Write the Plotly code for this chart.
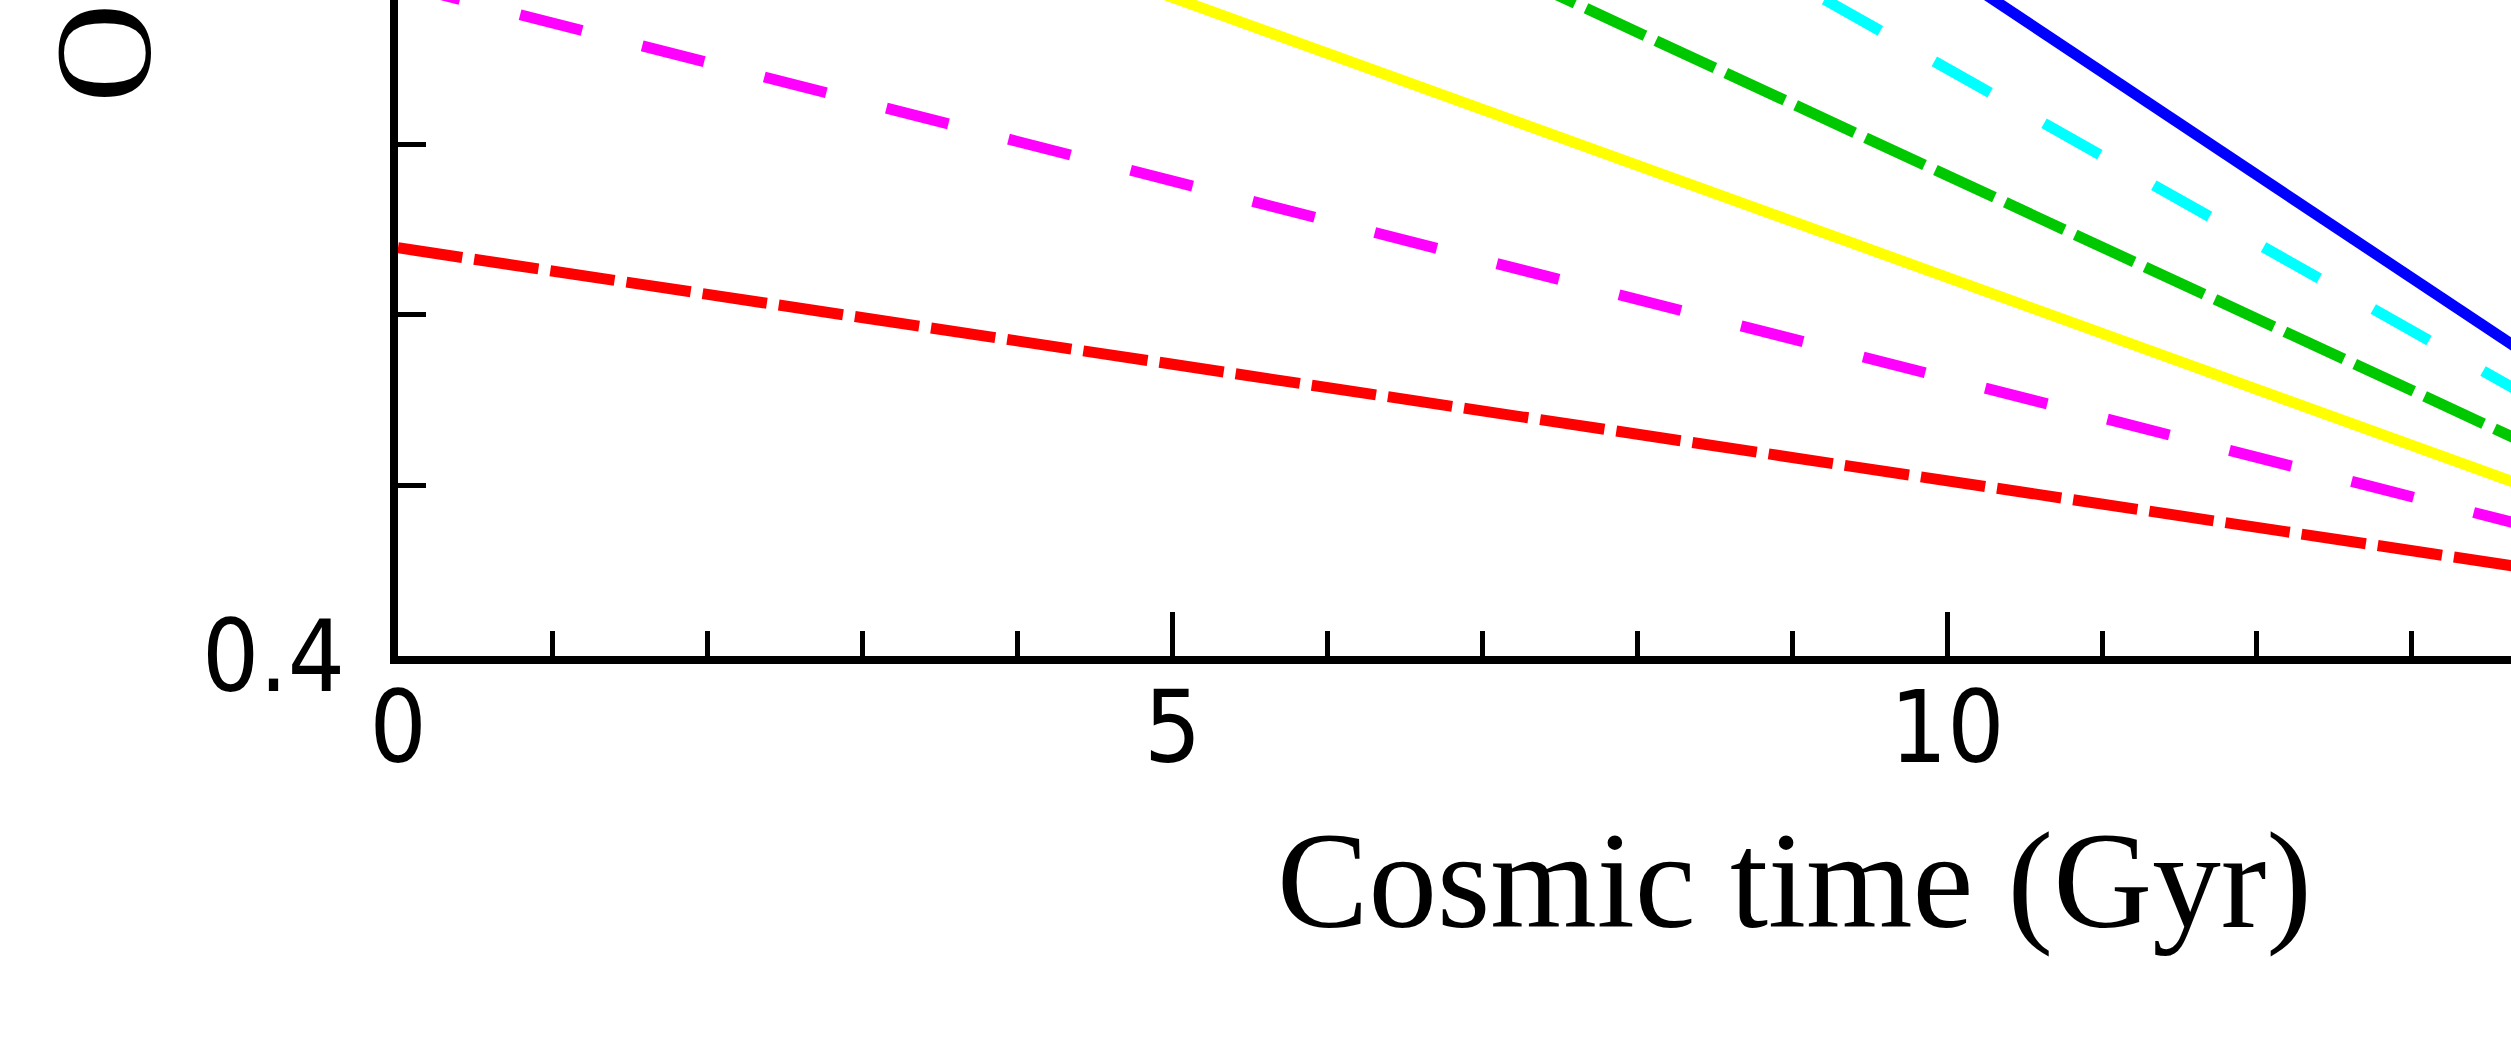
import plotly.graph_objects as go

# cosmic time (Gyr) and the six curves
time = [0, 2, 4, 6, 8, 10, 12, 13.8]
red = [0.4598, 0.4530, 0.4462, 0.4393, 0.4325, 0.4257, 0.4189, 0.4127]
magenta = [0.4985, 0.4869, 0.4754, 0.4638, 0.4523, 0.4407, 0.4291, 0.4187]
yellow = [0.5375, 0.5211, 0.5047, 0.4883, 0.4719, 0.4555, 0.4391, 0.4243]
green = [0.5754, 0.5544, 0.5334, 0.5124, 0.4914, 0.4704, 0.4494, 0.4305]
cyan = [0.6141, 0.5885, 0.5629, 0.5373, 0.5117, 0.4861, 0.4605, 0.4374]
blue = [0.6516, 0.6214, 0.5912, 0.5610, 0.5308, 0.5006, 0.4704, 0.4433]

x_ticks = [0, 5, 10]
y_ticks = [0.4, 0.5]

long_dash = "65px,12px"
even_dash = "64px,62px"

series = [
    (red, "#ff0000", long_dash),
    (magenta, "#ff00ff", even_dash),
    (yellow, "#ffff00", "solid"),
    (green, "#00c800", long_dash),
    (cyan, "#00ffff", even_dash),
    (blue, "#0000ff", "solid"),
]

fig = go.Figure()
for vals, col, dash in series:
    fig.add_trace(go.Scatter(x=time, y=vals, mode="lines",
                             line=dict(color=col, width=11, dash=dash),
                             showlegend=False, hoverinfo="skip"))

tickfont = dict(family="DejaVu Sans Condensed, DejaVu Sans", size=100, color="black")
serif = dict(family="Liberation Serif, serif", size=137, color="black")

fig.update_xaxes(range=[0, 13.64], tickvals=x_ticks, ticks="inside", ticklen=44,
                 tickwidth=5, tickcolor="black", showline=True, linecolor="black",
                 linewidth=8, showgrid=False, zeroline=False, tickfont=tickfont,
                 ticklabelstandoff=-22,
                 minor=dict(dtick=1, tick0=0, ticks="inside", ticklen=25,
                            tickwidth=5, tickcolor="black", showgrid=False))
fig.update_yaxes(range=[0.4, 0.4961], tickvals=y_ticks, ticks="inside", ticklen=44,
                 tickwidth=5, tickcolor="black", showline=True, linecolor="black",
                 linewidth=8, showgrid=False, zeroline=False, tickfont=tickfont,
                 tickformat=".1f", ticklabelstandoff=25,
                 minor=dict(dtick=0.025, tick0=0.4, ticks="inside", ticklen=28,
                            tickwidth=5, tickcolor="black", showgrid=False))

fig.add_annotation(text="Cosmic time (Gyr)", xref="paper", yref="paper",
                   x=0.661, y=-0.343, xanchor="center", yanchor="middle",
                   showarrow=False, font=serif)
fig.add_annotation(text="O", xref="paper", yref="paper", textangle=-90,
                   x=-0.139, y=0.919, xanchor="center", yanchor="middle",
                   showarrow=False, font=serif)

fig.update_layout(width=2511, height=1042, plot_bgcolor="white", paper_bgcolor="white",
                  margin=dict(l=398, r=0, t=0, b=386))

# page body has a default 8px margin; drop it so the figure sits at the corner
fig.write_html("out.html", config={"displayModeBar": False},
               post_script="document.body.style.margin='0';")
